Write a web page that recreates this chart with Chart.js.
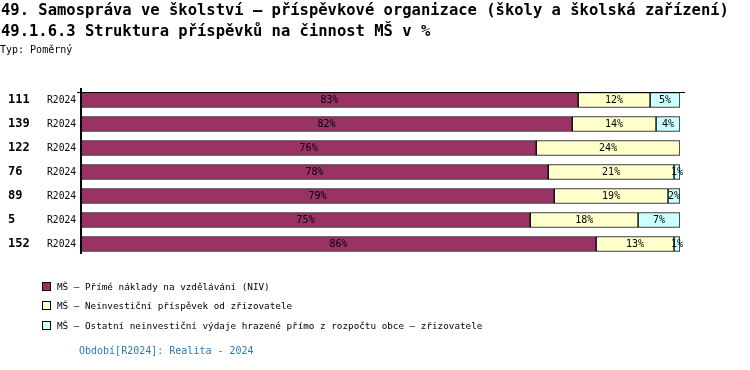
<!DOCTYPE html>
<html>
<head>
<meta charset="utf-8">
<script src="https://cdn.jsdelivr.net/npm/chart.js@4"></script>
<style>
  body { margin: 0; background: #fff; }
  #wrap { position: relative; width: 750px; height: 370px; font-family: "DejaVu Sans Mono", monospace; }
  canvas { position: absolute; left: 0; top: 0; }
  .t { position: absolute; white-space: nowrap; color: #000; }
  .h { font-weight: bold; font-size: 15.5px; left: 1px; }
  .leg { left: 42px; font-size: 9.3px; }
  .leg span { display: inline-block; width: 7px; height: 7px; border: 1px solid #000; margin-right: 6px; vertical-align: -1px; }
</style>
</head>
<body>
<div id="wrap">
  <canvas id="c" width="750" height="370"></canvas>
  <div class="t h" style="top:1px">49. Samospráva ve školství – příspěvkové organizace (školy a školská zařízení)</div>
  <div class="t h" style="top:22px">49.1.6.3 Struktura příspěvků na činnost MŠ v %</div>
  <div class="t" style="top:44px;left:0;font-size:10px">Typ: Poměrný</div>
  <div class="t leg" style="top:281px"><span style="background:#993366"></span>MŠ – Přímé náklady na vzdělávání (NIV)</div>
  <div class="t leg" style="top:300px"><span style="background:#ffffcc"></span>MŠ – Neinvestiční příspěvek od zřizovatele</div>
  <div class="t leg" style="top:320px"><span style="background:#ccffff"></span>MŠ – Ostatní neinvestiční výdaje hrazené přímo z rozpočtu obce – zřizovatele</div>
  <div class="t" style="top:345px;left:79px;font-size:10px;color:#2a7ab8">Období[R2024]: Realita - 2024</div>
</div>
<script>
const ids = ['111', '139', '122', '76', '89', '5', '152'];
const periods = ['R2024', 'R2024', 'R2024', 'R2024', 'R2024', 'R2024', 'R2024'];
const niv = [83, 82, 76, 78, 79, 75, 86];
const zriz = [12, 14, 24, 21, 19, 18, 13];
const ostatni = [5, 4, 0, 1, 2, 7, 1];

// popisky hodnot uvnitř segmentů + popisky řádků vlevo
const labelsPlugin = {
  id: 'labels',
  afterDatasetsDraw(chart) {
    const ctx = chart.ctx;
    const y = chart.scales.y;
    const area = chart.chartArea;
    ctx.save();
    ctx.textBaseline = 'middle';
    chart.data.datasets.forEach((ds, di) => {
      chart.getDatasetMeta(di).data.forEach((bar, i) => {
        if (!ds.data[i]) return;
        ctx.font = '10px "DejaVu Sans Mono"';
        ctx.fillStyle = '#000';
        ctx.textAlign = 'center';
        ctx.fillText(ds.data[i] + '%', (bar.base + bar.x) / 2, bar.y);
      });
    });
    // osa
    ctx.strokeStyle = '#000';
    ctx.lineWidth = 2;
    ctx.beginPath();
    ctx.moveTo(area.left, area.top);
    ctx.lineTo(area.left, area.bottom - 2);
    ctx.stroke();
    ctx.lineWidth = 1;
    ctx.beginPath();
    ctx.moveTo(area.left - 4, area.top + 4.5);
    ctx.lineTo(area.right + 5, area.top + 4.5);
    ctx.stroke();
    ids.forEach((id, i) => {
      const py = y.getPixelForValue(i);
      ctx.textAlign = 'left';
      ctx.font = 'bold 12px "DejaVu Sans Mono"';
      ctx.fillText(id, 8, py);
      ctx.font = '9.7px "DejaVu Sans Mono"';
      ctx.fillText(periods[i], 47, py);
    });
    ctx.restore();
  }
};

new Chart(document.getElementById('c'), {
  type: 'bar',
  data: {
    labels: ids,
    datasets: [
      { label: 'MŠ – Přímé náklady na vzdělávání (NIV)', data: niv, backgroundColor: '#993366' },
      { label: 'MŠ – Neinvestiční příspěvek od zřizovatele', data: zriz, backgroundColor: '#ffffcc' },
      { label: 'MŠ – Ostatní neinvestiční výdaje hrazené přímo z rozpočtu obce – zřizovatele', data: ostatni, backgroundColor: '#ccffff' }
    ]
  },
  options: {
    indexAxis: 'y',
    responsive: false,
    animation: false,
    layout: { padding: { left: 81, right: 70, top: 88, bottom: 114 } },
    datasets: { bar: { borderColor: '#000', borderWidth: 1, barThickness: 15, borderSkipped: false } },
    plugins: { legend: { display: false }, tooltip: { enabled: false } },
    scales: {
      x: { stacked: true, min: 0, max: 100, display: false },
      y: { stacked: true, display: false }
    }
  },
  plugins: [labelsPlugin]
});
</script>
</body>
</html>
